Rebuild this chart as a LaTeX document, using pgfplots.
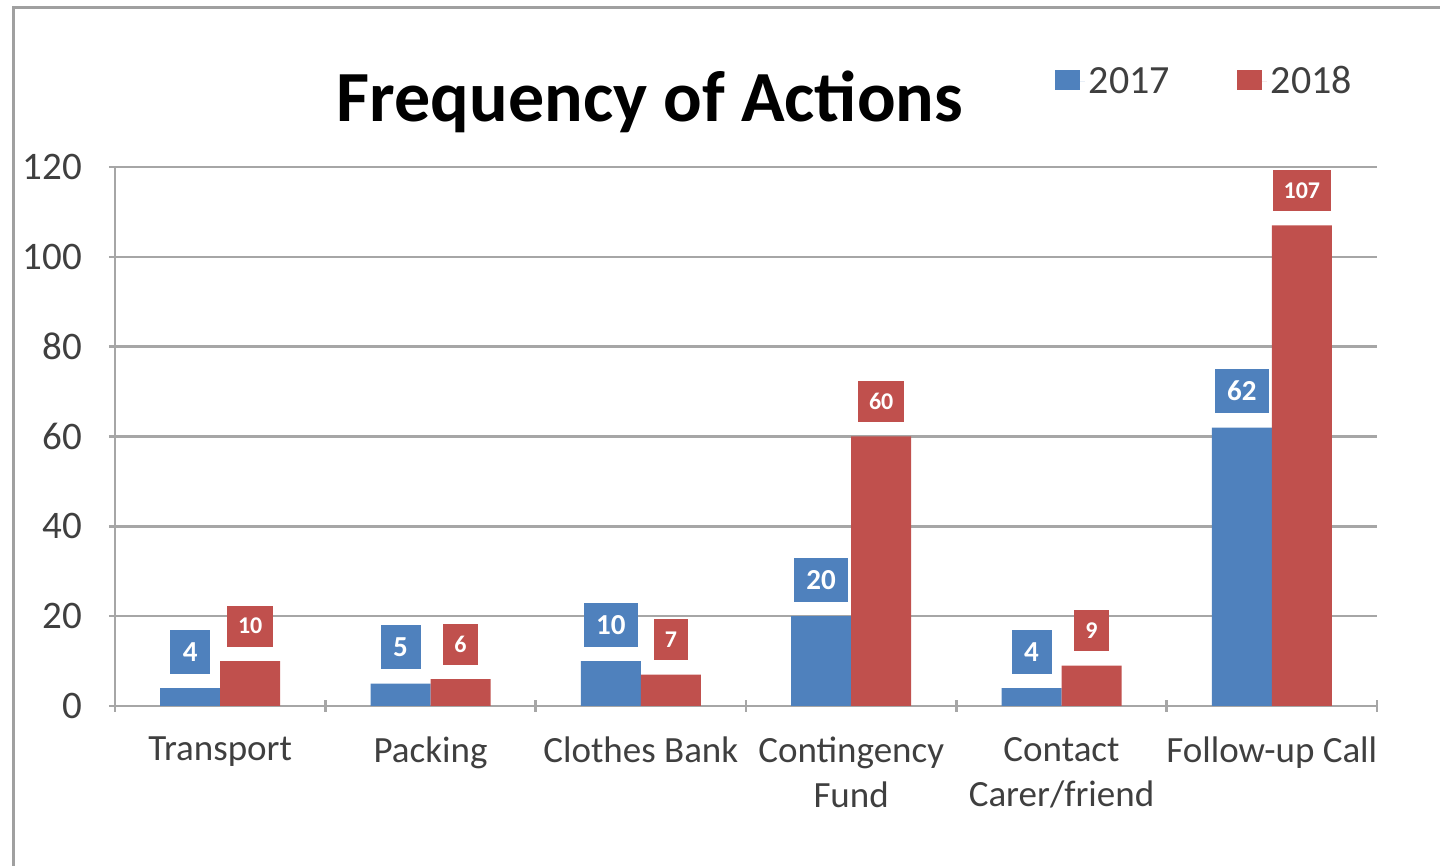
\documentclass[border=0pt]{standalone}
\usepackage{fontspec}
\setmainfont{Carlito}
\usepackage{pgfplots}
\pgfplotsset{compat=1.18}
\definecolor{cblue}{HTML}{4F81BD}
\definecolor{cred}{HTML}{C0504D}
\definecolor{gridgray}{HTML}{A6A6A6}
\definecolor{framegray}{HTML}{A0A0A0}
\definecolor{txtgray}{HTML}{3F3F3F}
\begin{document}
\begin{tikzpicture}
\path[use as bounding box] (0,0) rectangle (720pt,433pt);
\draw[color=framegray, line width=1.5pt] (6.5pt,0) -- (6.5pt,429pt) -- (720pt,429pt);
\node[font=\fontsize{36}{40}\selectfont\bfseries, anchor=base, inner sep=0pt] at (325pt,372pt) {Frequency of Actions};
\begin{axis}[
  at={(57.5pt,80pt)}, anchor=south west,
  scale only axis, width=631pt, height=269.5pt,
  /pgf/number format/assume math mode=true,
  ybar=0pt, bar width=30pt,
  xmin=-0.5, xmax=5.5, ymin=0, ymax=120,
  xtick={-0.5,0.5,...,5.5},
  x tick label as interval,
  xticklabels={Transport, Packing, Clothes Bank, {Contingency\\Fund}, {Contact\\Carer/friend}, Follow-up Call},
  xticklabel style={align=center, font=\fontsize{18.5}{22.5}\selectfont, text=txtgray, yshift=-9pt},
  ytick={0,20,...,120},
  yticklabel style={font=\fontsize{19.5}{22}\selectfont, text=txtgray, xshift=-10pt},
  tick align=outside,
  major tick length=6pt,
  tick style={gridgray, line width=1.3pt},
  axis x line=bottom, axis y line=left,
  axis line style={gridgray, line width=1.3pt, -},
  ymajorgrids,
  grid style={gridgray, line width=1.3pt},
  legend style={at={(0.864,1.158)}, anchor=center, draw=none, fill=none,
    font=\fontsize{20}{20}\selectfont, text=txtgray,
    /tikz/every even column/.append style={column sep=31.5pt}},
  legend columns=2,
  legend image code/.code={\path[#1] (0pt,-4pt) rectangle (12.5pt,6pt); \path (12.5pt,0pt) -- (15pt,0pt);},
  clip=false,
]
\addplot[fill=cblue, draw=none,
  nodes near coords,
  every node near coord/.append style={fill=cblue, text=white,
    font=\fontsize{14.5}{14.5}\selectfont\bfseries, inner xsep=6pt,
    minimum height=22pt, minimum width=20pt, yshift=7pt, anchor=south}]
  coordinates {(0,4) (1,5) (2,10) (3,20) (4,4) (5,62)};
\addplot[fill=cred, draw=none,
  nodes near coords,
  every node near coord/.append style={fill=cred, text=white,
    font=\fontsize{12}{12}\selectfont\bfseries, inner xsep=5.5pt,
    minimum height=20.5pt, minimum width=17pt, yshift=7pt, anchor=south}]
  coordinates {(0,10) (1,6) (2,7) (3,60) (4,9) (5,107)};
\legend{2017,2018}
\end{axis}
\end{tikzpicture}
\end{document}
